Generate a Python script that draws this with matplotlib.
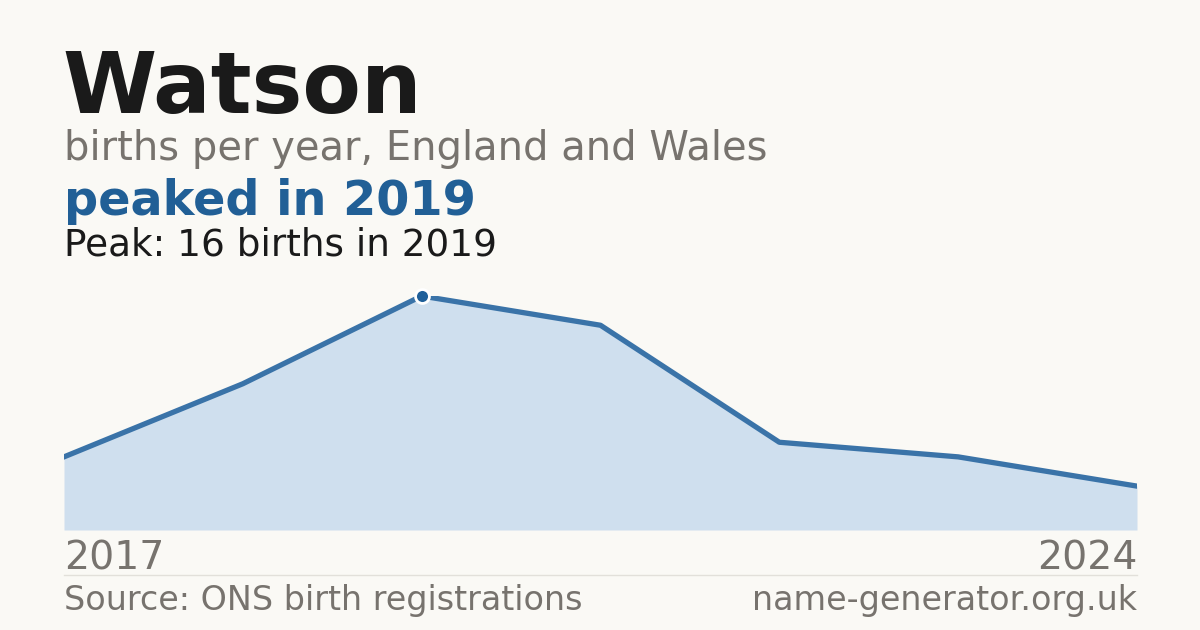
import matplotlib
matplotlib.use("Agg")
import matplotlib.pyplot as plt
import numpy as np

years = [2017, 2018, 2019, 2021, 2022, 2023, 2024]
births = [5, 10, 16, 14, 6, 5, 3]

BG = "#faf9f5"
fig = plt.figure(figsize=(12, 6.3), dpi=100, facecolor=BG)
W, H = 1200, 630
ax = fig.add_axes([64/W, (H-530)/H, 1073/W, 234/H])
ax.set_facecolor(BG)
x = np.arange(len(years))
ax.fill_between(x, births, 0, color="#cfdfee", lw=0)
ax.plot(x, births, color="#3a73a8", lw=3.8, solid_joinstyle="round")
pk = int(np.argmax(births))
ax.plot([x[pk]], [births[pk]], "o", ms=10, color="#1f5f99", mec="white", mew=2, clip_on=False, zorder=5)
ax.set_xlim(0, len(years)-1)
ax.set_ylim(0, max(births))
ax.axis("off")

def t(xp, yp, s, **kw):
    fig.text(xp/W, 1-yp/H, s, va="baseline", **kw)

t(62, 113, "Watson", fontsize=61.5, fontweight="bold", color="#1a1a1a")
t(64, 160, "births per year, England and Wales", fontsize=28.8, color="#77736e")
t(64, 215, "peaked in 2019", fontsize=34.4, fontweight="bold", color="#215f96")
t(64, 255, f"Peak: {births[pk]} births in {years[pk]}", fontsize=26.9, color="#1a1a1a")
t(64, 570, str(years[0]), fontsize=28.4, color="#77736e")
t(1137, 570, str(years[-1]), fontsize=28.4, color="#77736e", ha="right")
t(64, 610, "Source: ONS birth registrations", fontsize=24, color="#77736e")
t(1137, 610, "name-generator.org.uk", fontsize=24, color="#77736e", ha="right")
fig.add_artist(plt.Line2D([64/W, 1137/W], [1-575/H, 1-575/H], color="#e2e0da", lw=1))
fig.savefig("out.png", facecolor=BG)
